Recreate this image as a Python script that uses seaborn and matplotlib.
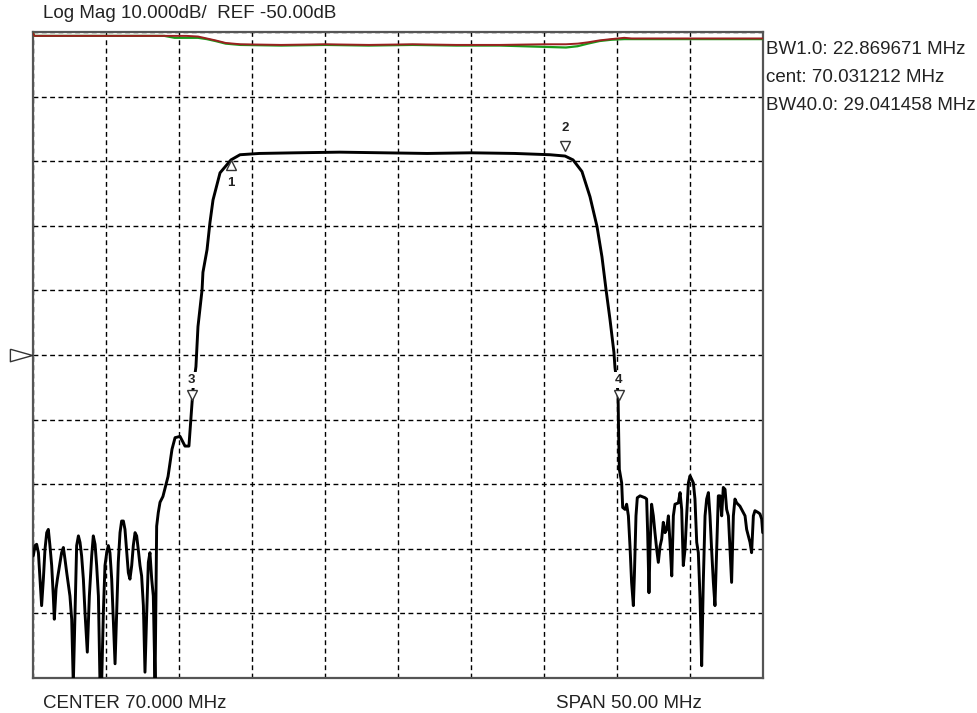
import numpy as np
import seaborn as sns
import matplotlib
matplotlib.use("Agg")
import matplotlib.pyplot as plt

# S21 trace (MHz, dB)
freq_mhz = [45.02, 45.14, 45.25, 45.37, 45.48, 45.59, 45.71, 45.82, 45.94, 46.05,
            46.16, 46.28, 46.39, 46.46, 46.58, 46.67, 46.85, 46.96, 47.08, 47.19,
            47.31, 47.53, 47.65, 47.76, 47.88, 47.99, 48.11, 48.22, 48.33, 48.45,
            48.56, 48.72, 48.86, 49.02, 49.13, 49.25, 49.36, 49.48, 49.59, 49.70,
            49.82, 49.93, 50.05, 50.16, 50.27, 50.39, 50.50, 50.62, 50.73, 50.84,
            50.96, 51.07, 51.19, 51.30, 51.42, 51.53, 51.64, 51.76, 51.87, 51.99,
            52.10, 52.21, 52.33, 52.44, 52.56, 52.67, 52.79, 52.90, 53.01, 53.13,
            53.24, 53.36, 53.47, 53.58, 53.70, 53.90, 54.25, 54.52, 54.73, 55.07,
            55.41, 55.68, 55.82, 55.96, 56.16, 56.30, 56.58, 56.64, 56.92, 57.12,
            57.33, 57.81, 58.15, 58.56, 59.18, 60.50, 63.00, 66.00, 69.00, 72.00,
            75.00, 78.00, 80.41, 81.44, 81.99, 82.60, 83.15, 83.63, 83.97, 84.25,
            84.52, 84.79, 84.86, 85.07, 85.10, 85.16, 85.32, 85.39, 85.55, 85.66,
            85.78, 85.89, 86.00, 86.12, 86.19, 86.30, 86.39, 86.58, 86.92, 87.03,
            87.10, 87.19, 87.26, 87.37, 87.49, 87.60, 87.72, 87.83, 87.95, 88.06,
            88.17, 88.29, 88.40, 88.52, 88.63, 88.75, 88.86, 88.97, 89.20, 89.32,
            89.43, 89.54, 89.66, 89.77, 89.89, 90.00, 90.11, 90.23, 90.34, 90.46,
            90.57, 90.69, 90.80, 90.91, 91.03, 91.14, 91.26, 91.37, 91.48, 91.60,
            91.71, 91.83, 91.94, 92.06, 92.17, 92.28, 92.40, 92.51, 92.63, 92.74,
            92.85, 92.97, 93.08, 93.20, 93.42, 93.65, 93.77, 93.88, 94.11, 94.22,
            94.34, 94.45, 94.68, 94.79, 94.91, 94.98]
s21_db = [-81.1, -79.5, -79.3, -80.6, -84.7, -88.8, -84.7, -80.1, -77.5, -77.0,
          -79.5, -82.6, -87.3, -90.9, -86.2, -84.7, -82.1, -80.6, -79.8, -81.6,
          -83.7, -87.3, -90.9, -101.0, -89.8, -79.5, -78.0, -79.0, -81.1, -84.7,
          -89.8, -96.0, -87.3, -81.1, -78.0, -79.3, -82.6, -87.3, -101.0, -101.0,
          -89.8, -82.6, -80.6, -79.5, -80.6, -84.7, -90.9, -97.8, -89.8, -82.1,
          -77.5, -75.7, -75.7, -77.0, -80.6, -83.7, -84.7, -82.6, -79.5, -77.5,
          -78.0, -80.1, -82.6, -84.2, -88.8, -99.1, -89.8, -82.1, -80.6, -84.7,
          -87.3, -101.0, -76.5, -74.4, -72.8, -71.9, -68.8, -64.6, -62.8, -62.6,
          -64.1, -64.1, -59.7, -55.3, -51.8, -45.6, -39.9, -37.2, -33.7, -29.5,
          -26.0, -21.8, -20.9, -19.8, -19.0, -18.8, -18.7, -18.6, -18.7, -18.8,
          -18.7, -18.8, -19.0, -19.2, -19.8, -21.6, -25.5, -30.1, -34.8, -39.9,
          -44.5, -49.6, -51.9, -55.8, -60.4, -67.7, -69.8, -73.6, -73.9, -73.1,
          -74.9, -79.6, -85.2, -88.8, -84.2, -74.9, -72.1, -71.8, -72.1, -72.3,
          -77.5, -86.8, -80.1, -73.1, -74.9, -77.5, -80.1, -82.1, -79.6, -78.5,
          -75.9, -77.5, -77.0, -74.9, -79.0, -84.2, -74.9, -73.1, -72.9, -71.3,
          -73.9, -82.6, -80.1, -74.9, -69.8, -68.7, -69.2, -69.8, -72.3, -79.0,
          -80.6, -87.8, -98.1, -85.2, -74.9, -72.3, -71.3, -74.9, -80.1, -85.2,
          -88.8, -80.1, -71.8, -71.8, -74.9, -70.5, -70.8, -73.9, -74.9, -80.1,
          -85.2, -74.9, -72.3, -72.9, -73.4, -74.4, -74.9, -77.0, -79.0, -80.6,
          -74.9, -74.1, -74.4, -74.6, -75.4, -77.5]

# upper traces (memory / reference, red and green)
upper_freq = [45.0, 45.1, 54.0, 54.7, 55.5, 56.3, 56.9, 57.5, 58.2, 59.2, 62.0, 65.0,
              68.0, 71.0, 74.0, 77.0, 80.0, 81.5, 82.3, 83.0, 83.8, 84.6, 85.5, 86.0, 95.0]
red_db = [-0.2, -0.6, -0.6, -0.6, -0.6, -0.7, -1.0, -1.3, -1.7, -1.9, -2.0, -1.9,
          -2.0, -1.9, -2.0, -2.0, -1.9, -1.9, -1.8, -1.6, -1.3, -1.1, -0.9, -1.0, -1.0]
green_db = [-0.2, -0.6, -0.6, -0.9, -0.9, -0.9, -1.1, -1.4, -1.8, -2.0, -2.1, -2.0,
            -2.1, -2.0, -2.1, -2.1, -2.3, -2.4, -2.2, -1.8, -1.4, -1.2, -1.1, -1.1, -1.1]

# markers
marker_ids = ["1", "2", "3", "4"]
marker_freq = [58.56, 81.44, 55.82, 85.07]
marker_db = [-19.8, -19.2, -55.8, -55.8]

header = "Log Mag 10.000dB/  REF -50.00dB"
readouts = ["BW1.0: 22.869671 MHz", "cent: 70.031212 MHz", "BW40.0: 29.041458 MHz"]
footer_left = "CENTER 70.000 MHz"
footer_right = "SPAN 50.00 MHz"

sns.set_style("white")
plt.rcParams['font.family'] = ['Liberation Sans', 'DejaVu Sans']

W, H = 978, 713
fig = plt.figure(figsize=(W / 100, H / 100), dpi=100)
ax = fig.add_axes([33 / W, 1 - 678 / H, 730 / W, 646 / H])

sns.lineplot(x=upper_freq, y=green_db, ax=ax, color="#1a9a1a", linewidth=1.6,
             sort=False, estimator=None, zorder=3)
sns.lineplot(x=upper_freq, y=red_db, ax=ax, color="#9b2020", linewidth=1.4,
             sort=False, estimator=None, zorder=4)
sns.lineplot(x=freq_mhz, y=s21_db, ax=ax, color="black", linewidth=2.1,
             sort=False, estimator=None, zorder=5)

ax.set_xlim(45, 95)
ax.set_ylim(-100, 0)
ax.set_xticks(np.arange(45, 96, 5))
ax.set_yticks(np.arange(-100, 1, 10))
ax.tick_params(length=0, labelbottom=False, labelleft=False)
ax.grid(True, color="black", linestyle=(0, (3.5, 2.5)), linewidth=1.0)
ax.set_xlabel("")
ax.set_ylabel("")
for sp in ax.spines.values():
    sp.set_color("#555555")
    sp.set_linewidth(1.6)

# marker triangles and numbers
for mid, f, d in zip(marker_ids, marker_freq, marker_db):
    if mid == "1":
        ax.plot(f, d - 0.8, marker="^", ms=7, mfc="white", mec="#333333", mew=1.0, zorder=6)
        ax.text(f, d - 3.6, mid, ha="center", va="center", fontsize=9.5, fontweight="bold",
                color="#222222", zorder=7)
    elif mid == "2":
        ax.plot(f, d + 1.5, marker="v", ms=7, mfc="white", mec="#333333", mew=1.0, zorder=6)
        ax.text(f, d + 4.4, mid, ha="center", va="center", fontsize=9.5, fontweight="bold",
                color="#222222", zorder=7)
    else:
        ax.plot(f + 0.05, d - 0.4, marker="v", ms=7, mfc="white", mec="#333333", mew=1.0, zorder=6)
        ax.text(f, d + 2.0, mid, ha="center", va="center", fontsize=9.5, fontweight="bold",
                color="#222222", zorder=7,
                bbox=dict(boxstyle="square,pad=0.15", fc="white", ec="none"))

# reference level arrow on the left
ax.plot(44.2, -50, marker=[(-1.6, 0.9), (1.6, 0), (-1.6, -0.9), (-1.6, 0.9)], ms=16,
        mfc="white", mec="#333333", mew=1.0, clip_on=False, zorder=6)

txt_kw = dict(fontsize=13.5, color="#222222", va="center")
fig.text(43 / W, 1 - 14 / H, header, ha="left", **txt_kw)
for i, r in enumerate(readouts):
    fig.text(766 / W, 1 - (50 + 28 * i) / H, r, ha="left", **txt_kw)
fig.text(43 / W, 1 - 703 / H, footer_left, ha="left", **txt_kw)
fig.text(556 / W, 1 - 703 / H, footer_right, ha="left", **txt_kw)

fig.savefig("out.png", dpi=100, facecolor="white")
